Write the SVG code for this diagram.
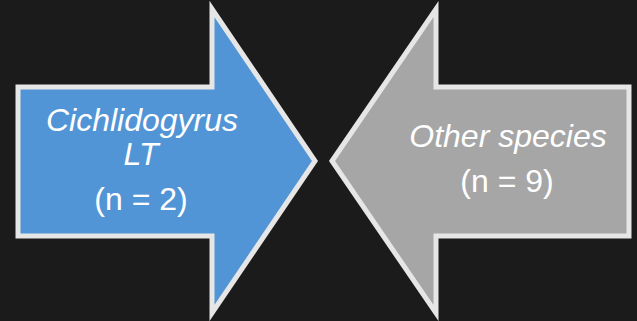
<svg xmlns="http://www.w3.org/2000/svg" width="637" height="321" viewBox="0 0 637 321">
<style>
.arrow{stroke:#e6e6e6;stroke-width:5;stroke-linejoin:miter;stroke-miterlimit:10}
.t{font-family:"Liberation Sans",Arial,sans-serif;font-size:32px;fill:#ffffff;text-anchor:middle}
.i{font-style:italic}
</style>
<rect x="0" y="0" width="637" height="321" fill="#1b1b1b"/>
<g id="cichlidogyrus">
<polygon class="arrow" fill="#5195d6" points="18,87 212,87 212,9 315,161 212,313 212,236 18,236"/>
<text class="t i" x="142" y="131">Cichlidogyrus</text>
<text class="t i" x="141" y="165">LT</text>
<text class="t" x="141" y="210">(n = 2)</text>
</g>
<g id="other">
<polygon class="arrow" fill="#a6a6a6" points="332,161 436,9 436,87 629,87 629,236 436,236 436,313"/>
<text class="t i" x="508" y="147">Other species</text>
<text class="t" x="507" y="192">(n = 9)</text>
</g>
<g id="connectors"/>
</svg>
